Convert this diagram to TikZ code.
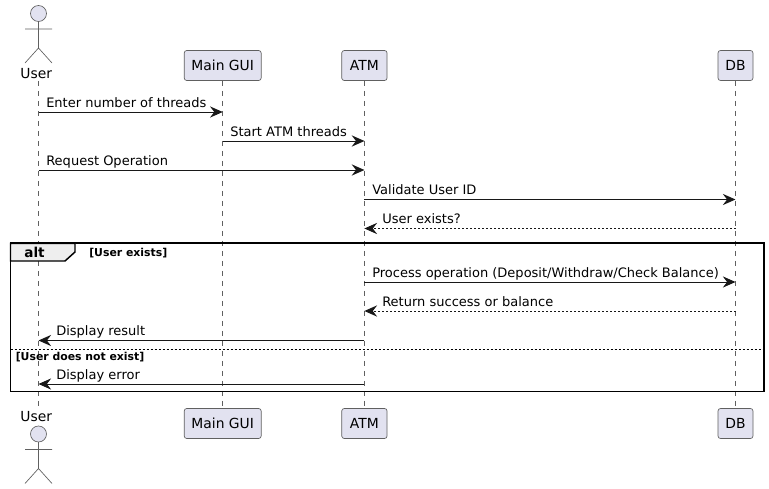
\documentclass[tikz,border=0pt]{standalone}
\usepackage{fontspec}
\setmainfont{DejaVu Sans}
\usetikzlibrary{arrows.meta}
\definecolor{partfill}{HTML}{E2E2F0}
\definecolor{inkdark}{HTML}{181818}
\definecolor{softline}{HTML}{606060}
\definecolor{tabfill}{HTML}{EEEEEE}
\tikzset{
  px/.style={x=0.75pt,y=-0.75pt},
  partbox/.style={draw=softline,fill=partfill,line width=0.5pt,rounded corners=1.9pt,inner sep=0pt,font=\fontsize{10.4pt}{12pt}\selectfont,text=black},
  actorname/.style={inner sep=0pt,font=\fontsize{10.4pt}{12pt}\selectfont,text=black},
  lifeline/.style={draw=softline,line width=0.4pt,dash pattern=on 3.75pt off 3.75pt},
  stickman/.style={draw=softline,line width=0.5pt},
  msgsolid/.style={draw=inkdark,line width=0.75pt,-{Stealth[length=9.5pt,width=8.4pt,inset=3.2pt]}},
  msgdash/.style={msgsolid,dash pattern=on 1.5pt off 1.5pt},
  msglabel/.style={anchor=base west,inner sep=0pt,font=\fontsize{9.76pt}{12pt}\selectfont,text=black},
  framebox/.style={draw=black,line width=1.35pt},
  tabshape/.style={draw=black,fill=tabfill,line width=1.1pt},
  guardtext/.style={anchor=base west,inner sep=0pt,font=\bfseries\fontsize{8.15pt}{10pt}\selectfont,text=black},
  alttext/.style={inner sep=0pt,font=\bfseries\fontsize{10.2pt}{12pt}\selectfont,text=black},
  sepline/.style={draw=black,line width=0.6pt,dash pattern=on 1.5pt off 1.5pt}
}
% #1 label name, #2 from, #3 to, #4 y, #5 style, #6 label x, #7 text
\newcommand{\seqmsg}[7]{%
  \draw[#5] (#2 |- 0,#4) -- (#3 |- 0,#4);
  \node[msglabel] (#1) at (#6,#4-4.7) {#7};
}
\newcommand{\stick}[2]{% x, head centre y
  \draw[stickman,fill=partfill] (#1,#2) circle[radius=6pt];
  \draw[stickman] (#1,#2+8) -- (#1,#2+34.5) -- (#1-13.5,#2+49.5)
    (#1,#2+34.5) -- (#1+13.5,#2+49.5) (#1-13.5,#2+15.5) -- (#1+13.5,#2+15.5);
}
\begin{document}
\begin{tikzpicture}[px]
\path[use as bounding box,fill=white] (0,0) rectangle (769,489);
% top participants
\node[actorname] (usert) at (36.2,73.5) {User};
\node[partbox,minimum width=57.75pt,minimum height=22.5pt] (guit) at (222.7,65.5) {Main GUI};
\node[partbox,minimum width=34pt,minimum height=22.5pt] (atmt) at (364.4,65.5) {ATM};
\node[partbox,minimum width=26.25pt,minimum height=22.5pt] (dbt) at (735.5,65.5) {DB};
% bottom participants
\node[actorname] (userb) at (36.2,416.5) {User};
\node[partbox,minimum width=57.75pt,minimum height=22.5pt] (guib) at (222.7,423.5) {Main GUI};
\node[partbox,minimum width=34pt,minimum height=22.5pt] (atmb) at (364.4,423.5) {ATM};
\node[partbox,minimum width=26.25pt,minimum height=22.5pt] (dbb) at (735.5,423.5) {DB};
\coordinate (lu) at (38.5,81);
\coordinate (lub) at (38.5,408);
% lifelines
\draw[lifeline] (lu) -- (lub);
\draw[lifeline] (guit.south) -- (guib.north);
\draw[lifeline] (atmt.south) -- (atmb.north);
\draw[lifeline] (dbt.south) -- (dbb.north);
% actors
\stick{38.5}{13.5}
\stick{38.5}{434}
% frame
\coordinate (fa) at (10.5,243.3);
\coordinate (fb) at (764,391.5);
\draw[framebox] (fa) rectangle (fb);
\draw[tabshape] (10.5,243.3) -- (75,243.3) -- (75,252) -- (65,261) -- (10.5,261) -- cycle;
\node[alttext] (alt) at (34.5,252) {alt};
\node[guardtext] (g1) at (89,256) {[User exists]};
\draw[sepline] (fa |- 0,349) -- (fb |- 0,349);
\node[guardtext] (g2) at (15.5,360) {[User does not exist]};
% messages
\seqmsg{m1}{lu}{guit}{112}{msgsolid}{46}{Enter number of threads}
\seqmsg{m2}{guit}{atmt}{141}{msgsolid}{230}{Start ATM threads}
\seqmsg{m3}{lu}{atmt}{170}{msgsolid}{46}{Request Operation}
\seqmsg{m4}{atmt}{dbt}{199.5}{msgsolid}{372}{Validate User ID}
\seqmsg{m5}{dbt}{atmt}{228.5}{msgdash}{382}{User exists?}
\seqmsg{m6}{atmt}{dbt}{282}{msgsolid}{372}{Process operation (Deposit/Withdraw/Check Balance)}
\seqmsg{m7}{dbt}{atmt}{311}{msgdash}{382}{Return success or balance}
\seqmsg{m8}{atmt}{lu}{340.5}{msgsolid}{56}{Display result}
\seqmsg{m9}{atmt}{lu}{384}{msgsolid}{56}{Display error}
\end{tikzpicture}
\end{document}
